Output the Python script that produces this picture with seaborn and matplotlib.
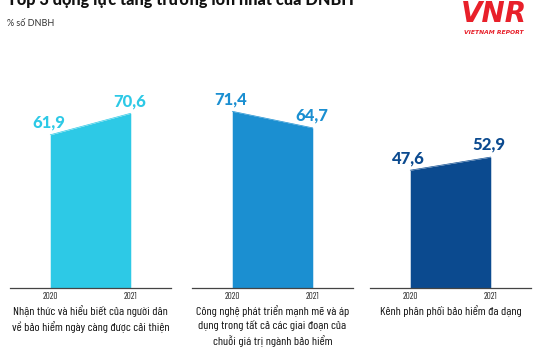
import matplotlib
matplotlib.use("Agg")
import matplotlib.pyplot as plt
import seaborn as sns
import pandas as pd

sns.set_style("white")
plt.rcParams['font.family'] = ['DejaVu Sans']

years = [2020, 2021]
year_labels = ["2020", "2021"]
categories = [
    "Nhận thức và hiểu biết của người dân\nvề bảo hiểm ngày càng được cải thiện",
    "Công nghệ phát triển mạnh mẽ và áp\ndụng trong tất cả các giai đoạn của\nchuỗi giá trị ngành bảo hiểm",
    "Kênh phân phối bảo hiểm đa dạng",
]
values_awareness = [61.9, 70.6]
values_technology = [71.4, 64.7]
values_channels = [47.6, 52.9]
series = [values_awareness, values_technology, values_channels]
colors = ["#2dc9e6", "#1b8fd1", "#0b4a8f"]

title = "Top 3 động lực tăng trưởng lớn nhất của DNBH"
subtitle = "% số DNBH"

narrow = ["Barlow Condensed", "DejaVu Sans"]
heavy = ["Lato", "DejaVu Sans"]

fig = plt.figure(figsize=(5.4, 3.6), dpi=100)
fig.patch.set_facecolor("white")

lefts_px = [10, 192, 370]
width_px = 161
bottom = 1 - 288 / 360
height = 198 / 360

for i, (cat, vals, col) in enumerate(zip(categories, series, colors)):
    ax = fig.add_axes([lefts_px[i] / 540, bottom, width_px / 540, height])
    df = pd.DataFrame({"year": years, "value": vals})
    sns.lineplot(data=df, x="year", y="value", ax=ax, color=col, linewidth=0.5)
    ax.fill_between(df["year"], 0, df["value"], color=col, linewidth=0)
    ax.set_xlim(2019.5, 2021.5)
    ax.set_ylim(0, 80)
    ax.set_xticks(years)
    ax.set_xticklabels(year_labels, fontsize=6.5, family=narrow, color="#222222")
    ax.tick_params(axis="x", length=0, pad=3)
    ax.set_yticks([])
    ax.set_xlabel("")
    ax.set_ylabel("")
    for s in ["top", "left", "right"]:
        ax.spines[s].set_visible(False)
    ax.spines["bottom"].set_color("#444444")
    ax.spines["bottom"].set_linewidth(0.9)
    for x, v in zip(years, vals):
        ax.annotate(f"{v:.1f}".replace(".", ","), (x, v), xytext=(-1, 3),
                    textcoords="offset points", ha="center", va="bottom",
                    fontsize=12, fontweight="black", family=heavy, color=col)
    ax.text(0.5, -0.085, cat, transform=ax.transAxes, ha="center", va="top",
            fontsize=8.8, family=narrow, color="#111111", linespacing=1.4)
    ax.patch.set_alpha(0)

fig.text(7 / 540, 1 - 5 / 360, title, ha="left", va="baseline",
         fontsize=11.7, fontweight="black", family=heavy, color="#111111")
fig.text(7 / 540, 1 - 24 / 360, subtitle, ha="left", va="center",
         fontsize=6.5, family=heavy, color="#333333")
fig.text(494 / 540, 1 - 14 / 360, "VNR", ha="center", va="center",
         fontsize=20, fontweight="bold", style="italic", color="#e8202a")
fig.text(494 / 540, 1 - 32 / 360, "VIETNAM REPORT", ha="center", va="center",
         fontsize=4.3, fontweight="bold", style="italic", color="#e8202a")

fig.savefig("out.png", dpi=100, facecolor="white")
